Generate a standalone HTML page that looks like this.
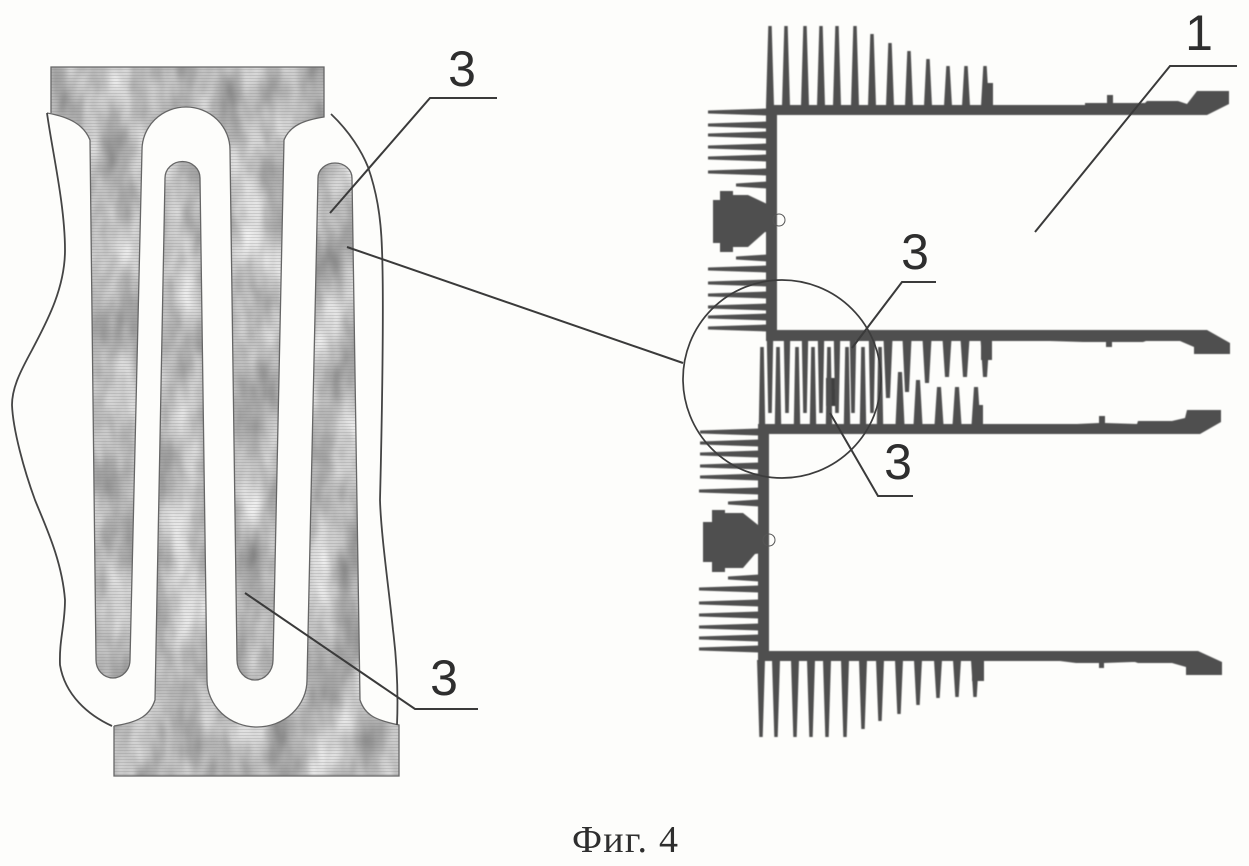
<!DOCTYPE html>
<html><head><meta charset="utf-8">
<style>html,body{margin:0;padding:0;background:#fdfdfb}svg{display:block}
text.n{font-family:"Liberation Sans",sans-serif;font-size:50px;fill:#2e2e2e;text-anchor:middle}
text.c{font-family:"Liberation Serif",serif;font-size:38px;fill:#2e2e2e}</style></head>
<body>
<svg width="1249" height="866" viewBox="0 0 1249 866" xmlns="http://www.w3.org/2000/svg">
<defs>
<filter id="mot" x="0" y="0" width="100%" height="100%" color-interpolation-filters="sRGB">
<feTurbulence type="fractalNoise" baseFrequency="0.03 0.014" numOctaves="3" seed="7"/>
<feColorMatrix type="matrix" values="0.6 0 0 0 0.44  0.6 0 0 0 0.44  0.6 0 0 0 0.44  0 0 0 0 1"/>
</filter>
<filter id="soft"><feGaussianBlur stdDeviation="0.6"/></filter>
<pattern id="lines" width="3" height="3" patternUnits="userSpaceOnUse"><rect width="3" height="1" fill="#808080" opacity=".25"/></pattern>
<clipPath id="shapes">
<path d="M51 67H324V117C305 120 290 125 284 140L273 660A18 20 0 0 1 237 660L230 150A44 43 0 0 0 142 150L130 660A17 18 0 0 1 96 660L90 140C84 125 70 117 47 113H51Z"/>
<path d="M114 776H399V725C375 720 365 715 360 700L352 178A17 15 0 0 0 318 178L307 680A50 47 0 0 1 207 680L200 178A17 16 0 0 0 165 178L155 700C150 715 140 722 114 726Z"/>
</clipPath>
</defs>

<rect width="1249" height="866" fill="#fdfdfb"/>

<!-- Left enlarged detail -->
<g clip-path="url(#shapes)">
<rect x="40" y="60" width="370" height="725" fill="#c0c0c0" filter="url(#mot)"/>
<rect x="40" y="60" width="370" height="725" fill="url(#lines)"/>
</g>
<g fill="none" stroke="#666" stroke-width="1.3">
<path d="M51 113V67H324V117C305 120 290 125 284 140L273 660A18 20 0 0 1 237 660L230 150A44 43 0 0 0 142 150L130 660A17 18 0 0 1 96 660L90 140C84 125 70 117 47 113"/>
<path d="M114 726V776H399V725C375 720 365 715 360 700L352 178A17 15 0 0 0 318 178L307 680A50 47 0 0 1 207 680L200 178A17 16 0 0 0 165 178L155 700C150 715 140 722 114 726"/>
</g>
<g fill="none" stroke="#444" stroke-width="1.8">
<path d="M47 113C52 150 65 205 65 250C65 290 45 325 32 350C20 372 12 388 12 405C13 430 24 470 35 500C45 525 62 560 65 600C65 625 59 640 60 665C65 695 88 715 112 726"/>
<path d="M331 114C350 132 362 152 368 167C376 190 381 215 382 250C384 300 382 420 380 500C381 535 389 590 393 630C398 670 398 700 397 725"/>
</g>

<!-- Right part -->
<g fill="#505050" stroke="none" filter="url(#soft)">
<path d="M766 105H1085V103H1107V95H1113V103H1145L1147 101H1178L1187 104L1197 91H1229V104L1207 115H777V335H766Z"/>
<path d="M766 330H1207L1230 343V354H1194V347L1180 341H1146L1143 342H1140H1112V347H1106V342H1083L1050 341H766Z"/>
<path d="M758 424H1077L1099 423V416H1105V423L1137 424L1138 421H1172L1185 418L1187 410H1221V422L1200 434H769V651H758Z"/>
<path d="M758 651H1198L1222 662V675H1186V667L1172 663H1138L1135 662H1132L1104 663V668H1099V663H1076L1060 661H758Z"/>
<path d="M713 200H720V191H733V195H748L765 203L777 210V232H765L748 247H733V252H720V243H713Z"/>
<path d="M703 522H712V510H725V513H743L758 525L769 530V552L755 554L743 568H725V572H712V562H703Z"/>
<path d="M983 105V83H993V105ZM981 340V360H992V340ZM974 424V405H983V424ZM972 661V681H984V661Z"/>
<rect x="826" y="378" width="11" height="28" fill="#404040"/>

<!-- top fins -->
<path d="M766 106l2.300-80h3.400l2.300 80zM782 106l2.300-80h3.400l2.300 80zM801 106l2.300-80h3.400l2.300 80zM817 106l2.300-80h3.400l2.300 80zM833 106l2.300-80h3.400l2.300 80zM851 106l2.300-80h3.400l2.300 80zM868 106l2.300-72h3.400l2.300 72zM886 106l2.300-63h3.400l2.300 63zM905 106l2.300-55h3.400l2.300 55zM924 106l2.300-47h3.400l2.300 47zM944 106l2.300-40h3.400l2.300 40zM962 106l2.300-40h3.400l2.300 40zM981 106l2.300-40h3.400l2.300 40z"/>
<!-- bottom fins -->
<path d="M757 660l2.300 77h3.400l2.300-77zM772 660l2.300 77h3.400l2.300-77zM791 660l2.300 77h3.400l2.300-77zM807 660l2.300 77h3.400l2.300-77zM823 660l2.300 77h3.400l2.300-77zM841 660l2.300 77h3.400l2.300-77zM859 660l2.300 69h3.400l2.300-69zM876 660l2.300 61h3.400l2.300-61zM895 660l2.300 54h3.400l2.300-54zM914 660l2.300 45h3.400l2.300-45zM934 660l2.300 38h3.400l2.300-38zM953 660l2.300 37h3.400l2.300-37zM971 660l2.300 37h3.400l2.300-37z"/>
<!-- left fins, upper -->
<path d="M708 110.500l59-2v7l-59-2zM708 123.500l59-2v7l-59-2zM708 133.500l59-2v7l-59-2zM708 145.500l59-2v7l-59-2zM708 156.500l59-2v7l-59-2zM708 170.500l59-2v7l-59-2zM736 183.500l31-2v7l-31-2zM736 256.500l31-2v7l-31-2zM708 267.500l59-2v7l-59-2zM708 281.500l59-2v7l-59-2zM708 293.500l59-2v7l-59-2zM708 305.500l59-2v7l-59-2zM708 315.500l59-2v7l-59-2zM708 326.500l59-2v7l-59-2z"/>
<!-- left fins, lower -->
<path d="M700 430.500l59-2v7l-59-2zM700 441.500l59-2v7l-59-2zM700 452.500l59-2v7l-59-2zM700 464.500l59-2v7l-59-2zM700 475.500l59-2v7l-59-2zM699 489.500l60-2v7l-60-2zM728 501.500l31-2v7l-31-2zM728 576.500l31-2v7l-31-2zM699 587.500l60-2v7l-60-2zM699 601.500l60-2v7l-60-2zM699 613.500l60-2v7l-60-2zM699 625.500l60-2v7l-60-2zM699 636.500l60-2v7l-60-2zM699 647.500l60-2v7l-60-2z"/>
<!-- middle rising -->
<path d="M758.800 425l1.400-78h3.600l1.400 78zM774.800 425l1.400-78h3.600l1.400 78zM793.800 425l1.400-78h3.600l1.400 78zM809.800 425l1.400-78h3.600l1.400 78zM825.800 425l1.400-78h3.600l1.400 78zM843.800 425l1.400-78h3.600l1.400 78zM859.800 425l1.400-78h3.600l1.400 78zM876.800 425l1.400-78h3.600l1.400 78zM895.500 425l2.500-53h4l2.500 53zM913.500 425l2.500-45h4l2.500 45zM934.500 425l2.500-38h4l2.500 38zM952.500 425l2.500-38h4l2.500 38zM971.500 425l2.500-38h4l2.500 38z"/>
<!-- middle hanging -->
<path d="M766.800 339l1.400 74h3.600l1.400-74zM783.800 339l1.400 74h3.600l1.400-74zM801.800 339l1.400 74h3.600l1.400-74zM817.800 339l1.400 74h3.600l1.400-74zM833.800 339l1.400 74h3.600l1.400-74zM849.800 339l1.400 74h3.600l1.400-74zM868.800 339l1.400 74h3.600l1.400-74zM883.500 339l2.500 59h4l2.500-59zM902.500 339l2.500 53h4l2.500-53zM922.500 339l2.500 44h4l2.500-44zM942.500 339l2.500 38h4l2.500-38zM960.500 339l2.500 38h4l2.500-38zM980.500 339l2.500 38h4l2.500-38z"/>
</g>
<g fill="none" stroke="#555" stroke-width="1">
<circle cx="779" cy="220" r="6"/>
<circle cx="769" cy="540" r="6"/>
</g>

<!-- Circle and leaders -->
<circle cx="782" cy="379" r="99" fill="none" stroke="#3c3c3c" stroke-width="1.7"/>
<g fill="none" stroke="#3a3a3a" stroke-width="2">
<path d="M330 213L430 98H497"/>
<path d="M347 247L683 363"/>
<path d="M245 593L415 709H478"/>
<path d="M1035 232L1170 66H1237"/>
<path d="M852 348L902 282H936"/>
<path d="M830 413L878 496H913"/>
</g>

<text class="n" x="462" y="86">3</text>
<text class="n" x="444" y="695">3</text>
<text class="n" x="1199" y="50">1</text>
<text class="n" x="915" y="269">3</text>
<text class="n" x="898" y="479">3</text>
<text class="c" x="572" y="852" textLength="106">Фиг. 4</text>
</svg>
</body></html>
